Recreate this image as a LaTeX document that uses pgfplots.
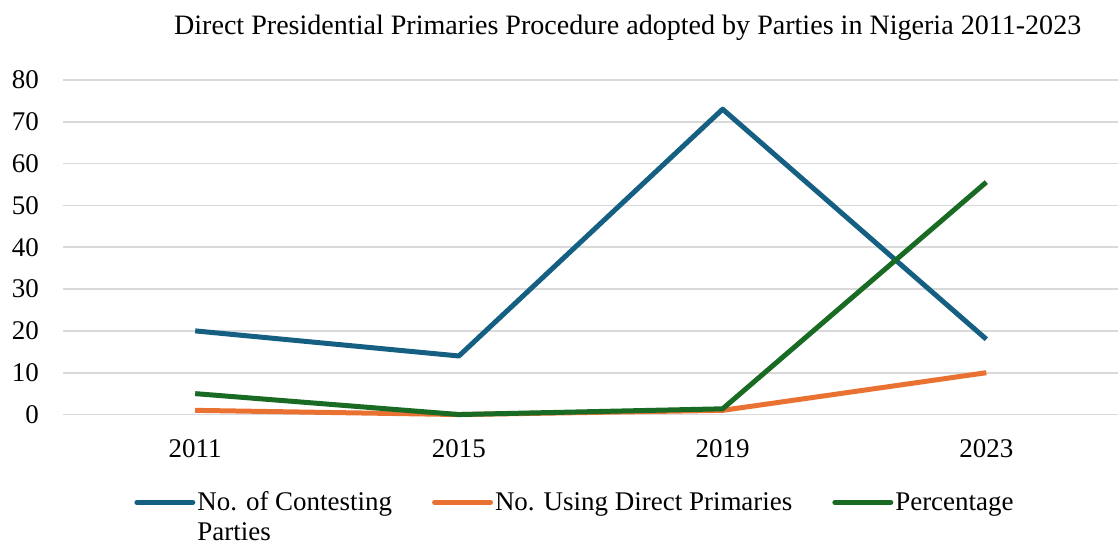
\documentclass[border=0pt]{standalone}
\usepackage{fontspec}
\setmainfont{Liberation Serif}
\usepackage{pgfplots}
\pgfplotsset{compat=1.18}
\definecolor{cblue}{HTML}{156082}
\definecolor{corange}{HTML}{E97132}
\definecolor{cgreen}{HTML}{196B24}
\definecolor{cgrid}{HTML}{D9D9D9}
\begin{document}
\begin{tikzpicture}
\begin{axis}[
  scale only axis,
  width=528pt, height=167.5pt,
  xmin=-0.5, xmax=3.5,
  ymin=0, ymax=80,
  xtick={0,1,2,3},
  xticklabels={2011,2015,2019,2023},
  ytick={0,10,20,30,40,50,60,70,80},
  axis line style={draw=none},
  major tick length=0pt,
  ymajorgrids,
  grid style={cgrid, line width=0.8pt},
  /pgf/number format/assume math mode=true,
  tick label style={font=\rmfamily\fontsize{13.5}{16}\selectfont},
  yticklabel style={inner xsep=6pt, xshift=-6pt},
  xticklabel style={yshift=-9pt},
  title={Direct Presidential Primaries Procedure adopted by Parties in Nigeria 2011-2023},
  title style={font=\rmfamily\fontsize{14.05}{16}\selectfont, at={(0.535,1)}, anchor=base, inner sep=0pt, text height=17.5pt, yshift=16.5pt},
  legend columns=3,
  legend cell align=left,
  legend style={draw=none, fill=none, inner sep=0pt,
    at={(0.067,-0.222)}, anchor=north west,
    font=\rmfamily\fontsize{13.5}{15}\selectfont,
    nodes={inner sep=1pt, anchor=base west},
    /tikz/every odd column/.append style={column sep=0pt},
    /tikz/every even column/.append style={column sep=19pt}},
  legend image code/.code={\draw[#1, line cap=round] (0pt,3.9pt) -- (28pt,3.9pt);},
  every axis plot/.append style={line width=2.5pt, line join=round},
  clip=false,
]
\addplot[cblue, mark=none] coordinates {(0,20) (1,14) (2,73) (3,18)};
\addlegendentry{\vtop{\hbox{No. of Contesting}\hbox{Parties}}}
\addplot[corange, mark=none] coordinates {(0,1) (1,0) (2,1) (3,10)};
\addlegendentry{No. Using Direct Primaries}
\addplot[cgreen, mark=none] coordinates {(0,5) (1,0) (2,1.37) (3,55.56)};
\addlegendentry{Percentage}
\end{axis}
\path (current axis.south west) ++(0pt,-65.5pt);
\end{tikzpicture}
\end{document}
